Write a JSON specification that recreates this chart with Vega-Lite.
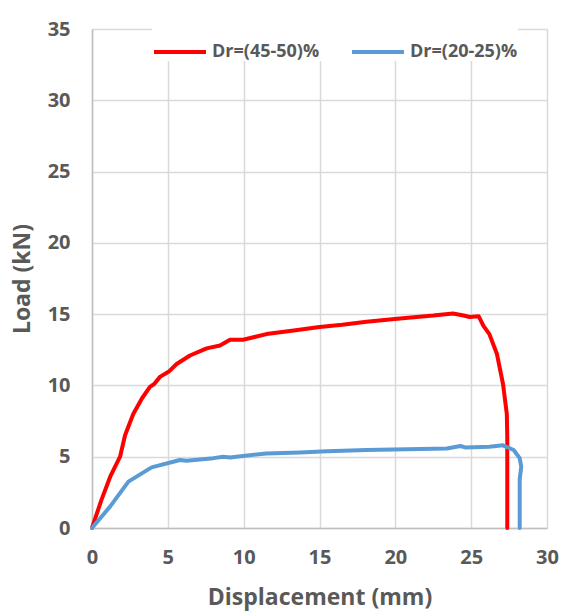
{
  "$schema": "https://vega.github.io/schema/vega-lite/v6.json",
  "width": 455,
  "height": 499,
  "autosize": "none",
  "padding": {"left": 92, "top": 29, "right": 17, "bottom": 85},
  "background": "white",
  "config": {
    "font": "Open Sans",
    "view": {"stroke": null}
  },
  "data": {
    "values": [
      {"s": "Dr=(45-50)%", "i": 0, "x": 0, "y": 0},
      {"s": "Dr=(45-50)%", "i": 1, "x": 0.6, "y": 1.9},
      {"s": "Dr=(45-50)%", "i": 2, "x": 1.2, "y": 3.6},
      {"s": "Dr=(45-50)%", "i": 3, "x": 1.85, "y": 5.0},
      {"s": "Dr=(45-50)%", "i": 4, "x": 2.18, "y": 6.5},
      {"s": "Dr=(45-50)%", "i": 5, "x": 2.72, "y": 8.0},
      {"s": "Dr=(45-50)%", "i": 6, "x": 3.3, "y": 9.1},
      {"s": "Dr=(45-50)%", "i": 7, "x": 3.82, "y": 9.9},
      {"s": "Dr=(45-50)%", "i": 8, "x": 4.1, "y": 10.1},
      {"s": "Dr=(45-50)%", "i": 9, "x": 4.48, "y": 10.6},
      {"s": "Dr=(45-50)%", "i": 10, "x": 5.1, "y": 11.0},
      {"s": "Dr=(45-50)%", "i": 11, "x": 5.58, "y": 11.5},
      {"s": "Dr=(45-50)%", "i": 12, "x": 6.46, "y": 12.1},
      {"s": "Dr=(45-50)%", "i": 13, "x": 7.56, "y": 12.6},
      {"s": "Dr=(45-50)%", "i": 14, "x": 8.44, "y": 12.8},
      {"s": "Dr=(45-50)%", "i": 15, "x": 9.1, "y": 13.2},
      {"s": "Dr=(45-50)%", "i": 16, "x": 9.97, "y": 13.2},
      {"s": "Dr=(45-50)%", "i": 17, "x": 11.5, "y": 13.6},
      {"s": "Dr=(45-50)%", "i": 18, "x": 13.3, "y": 13.85},
      {"s": "Dr=(45-50)%", "i": 19, "x": 15.0, "y": 14.1},
      {"s": "Dr=(45-50)%", "i": 20, "x": 16.5, "y": 14.25},
      {"s": "Dr=(45-50)%", "i": 21, "x": 18.1, "y": 14.46},
      {"s": "Dr=(45-50)%", "i": 22, "x": 20.3, "y": 14.7},
      {"s": "Dr=(45-50)%", "i": 23, "x": 22.5, "y": 14.9},
      {"s": "Dr=(45-50)%", "i": 24, "x": 23.8, "y": 15.05},
      {"s": "Dr=(45-50)%", "i": 25, "x": 24.5, "y": 14.9},
      {"s": "Dr=(45-50)%", "i": 26, "x": 24.9, "y": 14.8},
      {"s": "Dr=(45-50)%", "i": 27, "x": 25.5, "y": 14.85},
      {"s": "Dr=(45-50)%", "i": 28, "x": 25.8, "y": 14.2},
      {"s": "Dr=(45-50)%", "i": 29, "x": 26.2, "y": 13.6},
      {"s": "Dr=(45-50)%", "i": 30, "x": 26.7, "y": 12.2},
      {"s": "Dr=(45-50)%", "i": 31, "x": 27.1, "y": 10.1},
      {"s": "Dr=(45-50)%", "i": 32, "x": 27.35, "y": 8.0},
      {"s": "Dr=(45-50)%", "i": 33, "x": 27.38, "y": 6.4},
      {"s": "Dr=(45-50)%", "i": 34, "x": 27.38, "y": 0},
      {"s": "Dr=(20-25)%", "i": 0, "x": 0, "y": 0},
      {"s": "Dr=(20-25)%", "i": 1, "x": 1.19, "y": 1.5},
      {"s": "Dr=(20-25)%", "i": 2, "x": 2.4, "y": 3.25},
      {"s": "Dr=(20-25)%", "i": 3, "x": 3.93, "y": 4.25},
      {"s": "Dr=(20-25)%", "i": 4, "x": 5.8, "y": 4.77},
      {"s": "Dr=(20-25)%", "i": 5, "x": 6.24, "y": 4.72},
      {"s": "Dr=(20-25)%", "i": 6, "x": 8.0, "y": 4.9},
      {"s": "Dr=(20-25)%", "i": 7, "x": 8.66, "y": 5.0},
      {"s": "Dr=(20-25)%", "i": 8, "x": 9.1, "y": 4.95},
      {"s": "Dr=(20-25)%", "i": 9, "x": 11.5, "y": 5.23},
      {"s": "Dr=(20-25)%", "i": 10, "x": 13.7, "y": 5.3},
      {"s": "Dr=(20-25)%", "i": 11, "x": 15.5, "y": 5.38},
      {"s": "Dr=(20-25)%", "i": 12, "x": 18.1, "y": 5.47},
      {"s": "Dr=(20-25)%", "i": 13, "x": 23.4, "y": 5.58},
      {"s": "Dr=(20-25)%", "i": 14, "x": 24.3, "y": 5.75},
      {"s": "Dr=(20-25)%", "i": 15, "x": 24.6, "y": 5.65},
      {"s": "Dr=(20-25)%", "i": 16, "x": 26.2, "y": 5.7},
      {"s": "Dr=(20-25)%", "i": 17, "x": 27.1, "y": 5.8},
      {"s": "Dr=(20-25)%", "i": 18, "x": 27.8, "y": 5.47},
      {"s": "Dr=(20-25)%", "i": 19, "x": 28.2, "y": 4.9},
      {"s": "Dr=(20-25)%", "i": 20, "x": 28.3, "y": 4.3},
      {"s": "Dr=(20-25)%", "i": 21, "x": 28.2, "y": 3.4},
      {"s": "Dr=(20-25)%", "i": 22, "x": 28.2, "y": 0}
    ]
  },
  "mark": {"type": "line", "strokeWidth": 4, "strokeCap": "round", "strokeJoin": "round"},
  "encoding": {
    "x": {
      "field": "x",
      "type": "quantitative",
      "scale": {"domain": [0, 30], "nice": false},
      "axis": {
        "values": [0, 5, 10, 15, 20, 25, 30],
        "title": "Displacement (mm)",
        "titleFontSize": 23,
        "titleFontWeight": "bold",
        "titleColor": "#595959",
        "titlePadding": 19,
        "labelFontSize": 20,
        "labelFontWeight": "bold",
        "labelColor": "#595959",
        "labelPadding": 19,
        "labelFlush": false,
        "ticks": false,
        "domainColor": "#bfbfbf",
        "domainWidth": 1.5,
        "gridColor": "#d9d9d9",
        "gridWidth": 1.5
      }
    },
    "y": {
      "field": "y",
      "type": "quantitative",
      "scale": {"domain": [0, 35], "nice": false},
      "axis": {
        "values": [0, 5, 10, 15, 20, 25, 30, 35],
        "title": "Load (kN)",
        "titleFontSize": 23,
        "titleFontWeight": "bold",
        "titleColor": "#595959",
        "titlePadding": 13,
        "labelFontSize": 20,
        "labelFontWeight": "bold",
        "labelColor": "#595959",
        "labelPadding": 22,
        "labelFlush": false,
        "ticks": false,
        "domainColor": "#bfbfbf",
        "domainWidth": 1.5,
        "gridColor": "#d9d9d9",
        "gridWidth": 1.5
      }
    },
    "color": {
      "field": "s",
      "type": "nominal",
      "scale": {"domain": ["Dr=(45-50)%", "Dr=(20-25)%"], "range": ["#ff0000", "#5b9bd5"]},
      "legend": {
        "title": null,
        "orient": "none",
        "legendX": 60,
        "legendY": -5,
        "direction": "horizontal",
        "symbolType": "stroke",
        "symbolSize": 2700,
        "symbolStrokeWidth": 4,
        "labelFontSize": 18,
        "labelFontWeight": "bold",
        "labelColor": "#595959",
        "labelOffset": 4,
        "columnPadding": 24,
        "fillColor": "white"
      }
    },
    "order": {"field": "i", "type": "quantitative"}
  }
}
